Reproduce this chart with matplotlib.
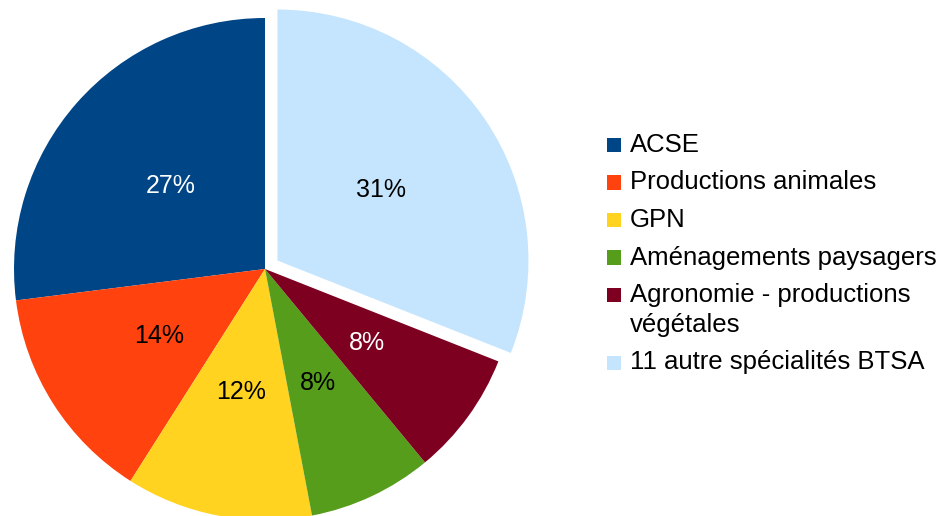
import matplotlib.pyplot as plt
from matplotlib.patches import Rectangle

plt.rcParams['font.family'] = ['Liberation Sans', 'DejaVu Sans']

labels = ["ACSE", "Productions animales", "GPN", "Aménagements paysagers",
          "Agronomie - productions\nvégétales", "11 autre spécialités BTSA"]
values = [27, 14, 12, 8, 8, 31]
colors = ["#004586", "#ff420e", "#ffd320", "#579d1c", "#7e0021", "#c4e5fd"]
text_colors = ["white", "black", "black", "black", "white", "black"]
explode = [0, 0, 0, 0, 0, 0.06]

W, H = 939, 516
fig = plt.figure(figsize=(W / 100, H / 100), dpi=100)

# pie centre and radius in pixels
cx, cy, r = 265, 516 - 269, 251
lim = 1.1
ax = fig.add_axes([(cx - lim * r) / W, (cy - lim * r) / H, 2 * lim * r / W, 2 * lim * r / H])

wedges, texts, autotexts = ax.pie(values, colors=colors, startangle=90, counterclock=True,
                                  explode=explode, autopct='%d%%', pctdistance=0.5,
                                  wedgeprops=dict(linewidth=0),
                                  textprops=dict(fontsize=18))
for t, c in zip(autotexts, text_colors):
    t.set_color(c)
ax.set_xlim(-lim, lim)
ax.set_ylim(-lim, lim)
ax.axis('off')

# legend drawn by hand so the swatch sits on the first line
y = 145
for lab, col in zip(labels, colors):
    fig.add_artist(Rectangle((607 / W, 1 - (y + 7) / H), 14 / W, 14 / H,
                             transform=fig.transFigure, color=col, lw=0))
    fig.text(630 / W, 1 - (y - 12) / H, lab, fontsize=18.5, va='top', ha='left',
             linespacing=1.32, transform=fig.transFigure)
    y += 37.5 + 30 * lab.count('\n')

fig.savefig("out.png", dpi=100)
